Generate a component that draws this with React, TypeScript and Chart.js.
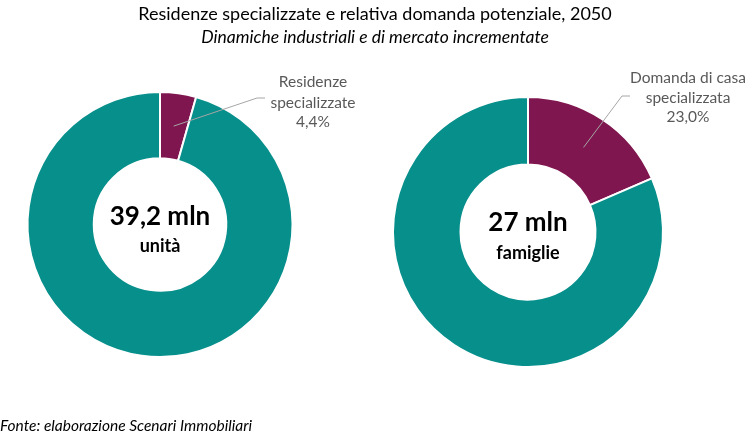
import React, { useEffect, useRef } from "react";
import { Chart, registerables } from "chart.js";
Chart.register(...registerables);

const TITLE = "Residenze specializzate e relativa domanda potenziale, 2050";
const SUBTITLE = "Dinamiche industriali e di mercato incrementate";
const SOURCE = "Fonte: elaborazione Scenari Immobiliari";

const leftCategories = ["Residenze specializzate", "Altre residenze"];
const leftValues = [4.4, 95.6];
const leftLabelLines = ["Residenze", "specializzate", "4,4%"];
const leftCenterLines = ["39,2 mln", "unità"];

const rightCategories = ["Domanda di casa specializzata", "Altra domanda"];
const rightValues = [18.5, 81.5];
const rightLabelLines = ["Domanda di casa", "specializzata", "23,0%"];
const rightCenterLines = ["27 mln", "famiglie"];

const COLORS = ["#80164F", "#078F8B"];
const FONT = "Lato, 'Open Sans', sans-serif";

type Cfg = {
  labels: string[];
  values: number[];
  labelLines: string[];
  centerLines: string[];
  padding: { left: number; right: number; top: number; bottom: number };
  labelX: number;
  labelY: number[];
  elbow: [number, number];
  lineEnd: [number, number];
  centerDy: [number, number];
};

const decoPlugin = {
  id: "deco",
  afterDatasetsDraw(chart: any, _args: any, opts: any) {
    const cfg: Cfg = opts.cfg;
    const ctx = chart.ctx;
    const arc = chart.getDatasetMeta(0).data[0];
    const p = arc.getProps(["x", "y", "startAngle", "endAngle", "innerRadius", "outerRadius"], true);
    const mid = (p.startAngle + p.endAngle) / 2;
    const r = (p.innerRadius + p.outerRadius) / 2;
    const sx = p.x + Math.cos(mid) * r;
    const sy = p.y + Math.sin(mid) * r;
    ctx.save();
    ctx.strokeStyle = "#A6A6A6";
    ctx.lineWidth = 1;
    ctx.beginPath();
    ctx.moveTo(sx, sy);
    ctx.lineTo(cfg.elbow[0], cfg.elbow[1]);
    ctx.lineTo(cfg.lineEnd[0], cfg.lineEnd[1]);
    ctx.stroke();

    ctx.fillStyle = "#595959";
    ctx.textAlign = "center";
    ctx.textBaseline = "middle";
    ctx.font = `15.5px ${FONT}`;
    cfg.labelLines.forEach((t, i) => ctx.fillText(t, cfg.labelX, cfg.labelY[i]));

    ctx.fillStyle = "#000000";
    ctx.font = `bold 26px ${FONT}`;
    ctx.fillText(cfg.centerLines[0], p.x, p.y + cfg.centerDy[0]);
    ctx.font = `bold 18px ${FONT}`;
    ctx.fillText(cfg.centerLines[1], p.x, p.y + cfg.centerDy[1]);
    ctx.restore();
  },
};

function Donut({ cfg, left }: { cfg: Cfg; left: number }) {
  const ref = useRef<HTMLCanvasElement>(null);
  useEffect(() => {
    if (!ref.current) return;
    const chart = new Chart(ref.current, {
      type: "doughnut",
      data: {
        labels: cfg.labels,
        datasets: [
          {
            data: cfg.values,
            backgroundColor: COLORS,
            borderColor: "#ffffff",
            borderWidth: 2,
          },
        ],
      },
      options: {
        responsive: false,
        animation: false,
        cutout: "50%",
        layout: { padding: cfg.padding },
        plugins: {
          legend: { display: false },
          tooltip: { enabled: false },
          deco: { cfg },
        } as any,
      },
      plugins: [decoPlugin as any],
    });
    return () => chart.destroy();
  }, []);
  return (
    <canvas
      ref={ref}
      width={375}
      height={448}
      style={{ position: "absolute", left, top: 0, width: 375, height: 448 }}
    />
  );
}

const leftCfg: Cfg = {
  labels: leftCategories,
  values: leftValues,
  labelLines: leftLabelLines,
  centerLines: leftCenterLines,
  padding: { left: 26, right: 81, top: 91, bottom: 90 },
  labelX: 313,
  labelY: [82, 103, 122],
  elbow: [257, 98],
  lineEnd: [265, 98],
  centerDy: [-8, 22],
};

const rightCfg: Cfg = {
  labels: rightCategories,
  values: rightValues,
  labelLines: rightLabelLines,
  centerLines: rightCenterLines,
  padding: { left: 17, right: 86, top: 96, bottom: 80 },
  labelX: 313,
  labelY: [78, 98, 117],
  elbow: [247, 96],
  lineEnd: [255, 96],
  centerDy: [-9, 21],
};

export default function App() {
  return (
    <div
      style={{
        position: "absolute",
        left: 0,
        top: 0,
        width: 750,
        height: 448,
        background: "#ffffff",
        overflow: "hidden",
        fontFamily: FONT,
      }}
    >
      <Donut cfg={leftCfg} left={0} />
      <Donut cfg={rightCfg} left={375} />
      <div
        style={{
          position: "absolute",
          left: 0,
          width: 750,
          top: 2,
          textAlign: "center",
          lineHeight: "23px",
          color: "#000",
        }}
      >
        <div style={{ fontSize: 18 }}>{TITLE}</div>
        <div style={{ fontSize: 17.5, fontStyle: "italic" }}>{SUBTITLE}</div>
      </div>
      <div
        style={{
          position: "absolute",
          left: 0,
          top: 415,
          fontSize: 15.5,
          lineHeight: "20px",
          fontStyle: "italic",
          color: "#000",
        }}
      >
        {SOURCE}
      </div>
    </div>
  );
}
